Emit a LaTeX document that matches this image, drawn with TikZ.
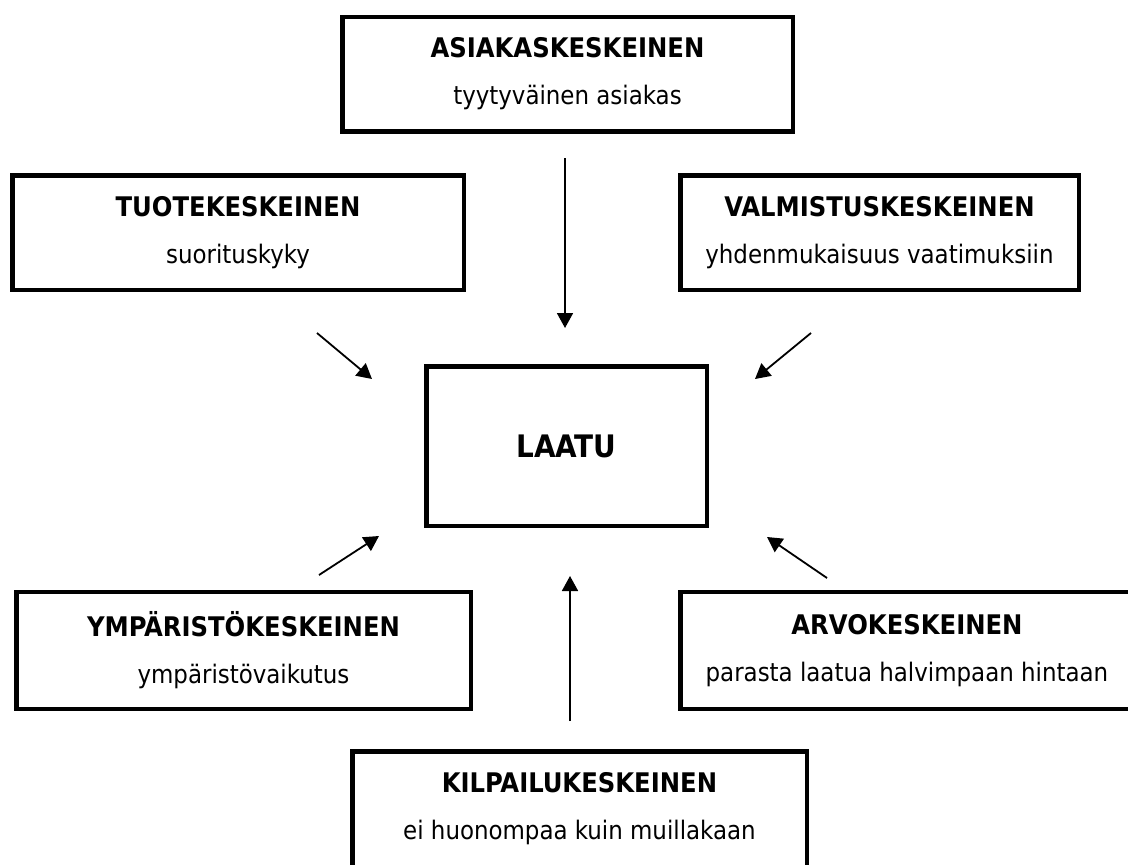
\documentclass[tikz,border=0pt]{standalone}
\usepackage{fontspec}
\setmainfont{DejaVu Sans Condensed}
\usetikzlibrary{arrows.meta}

\tikzset{
  laatikko/.style={draw, line width=4.5pt, align=center, inner sep=2pt},
  nuoli/.style={line width=1.8pt, -{Triangle[length=15pt, width=16pt]}},
}
\newcommand{\ots}[1]{{\fontsize{27}{47}\selectfont\bfseries #1}}

\begin{document}
\begin{tikzpicture}[x=1pt, y=-1pt, font=\fontsize{25.5}{47}\selectfont]
\useasboundingbox[fill=white] (0,0) rectangle (1128,865);

\node[laatikko, minimum width=450.5pt, minimum height=114.5pt] (asiakas) at (567.5,74)
  {\ots{ASIAKASKESKEINEN}\\tyytyväinen asiakas};
\node[laatikko, minimum width=451.5pt, minimum height=114.5pt] (tuote) at (238,232.5)
  {\ots{TUOTEKESKEINEN}\\suorituskyky};
\node[laatikko, minimum width=398.5pt, minimum height=114.5pt] (valmistus) at (879.5,232.5)
  {\ots{VALMISTUSKESKEINEN}\\yhdenmukaisuus vaatimuksiin};
\node[laatikko, minimum width=280.5pt, minimum height=159.5pt,
  font=\fontsize{31}{36}\selectfont\bfseries] (laatu) at (566.5,446) {LAATU};
\node[laatikko, minimum width=454.5pt, minimum height=117pt] (ymparisto) at (243.5,650.5)
  {\ots{YMPÄRISTÖKESKEINEN}\\ympäristövaikutus};
\node[laatikko, minimum width=453.5pt, minimum height=117pt] (arvo) at (907,650.5)
  {\ots{ARVOKESKEINEN}\\parasta laatua halvimpaan hintaan};
\node[laatikko, minimum width=454.5pt, minimum height=115.5pt] (kilpailu) at (579.5,809)
  {\ots{KILPAILUKESKEINEN}\\ei huonompaa kuin muillakaan};

\foreach \nimi/\ax/\ay/\bx/\by in {
yla/565/158/565/328,
vasyla/317/333/372/379,
oikyla/811/333/755/379,
vasala/319/575/379/536,
oikala/827/578/767/537,
ala/570/721/570/576} {
  \coordinate (\nimi-a) at (\ax,\ay);
  \coordinate (\nimi-b) at (\bx,\by);
  \draw[nuoli] (\nimi-a) -- (\nimi-b);
}
\end{tikzpicture}
\end{document}
